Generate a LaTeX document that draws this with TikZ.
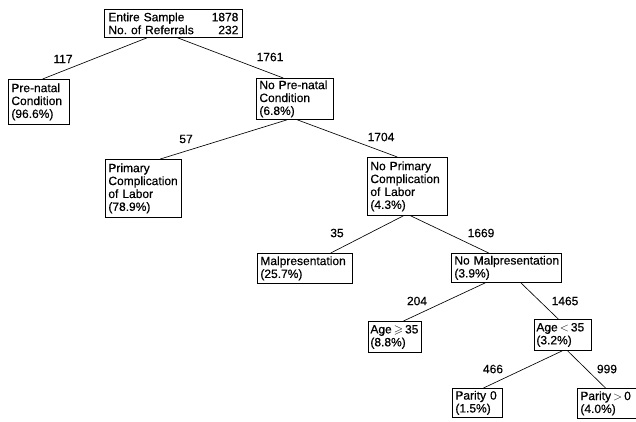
\documentclass[tikz,border=0pt]{standalone}
\usepackage{amssymb}
\usepackage{fontspec}
\setmainfont{Liberation Sans}[FakeBold=0.5]
\usetikzlibrary{calc}
\begin{document}
\frenchspacing
\begin{tikzpicture}[x=1pt,y=-1pt,
  box/.style={draw, line width=0.8pt, anchor=north west, align=left,
    inner xsep=3pt, inner ysep=0pt, font=\fontsize{12}{12.9}\selectfont},
  cnt/.style={font=\fontsize{12}{12.9}\selectfont, inner sep=0pt},
  edge/.style={line width=0.65pt}]
\useasboundingbox (0,0) rectangle (636,421);
\clip (0,0) rectangle (636,421);
% boxes
\node[box, inner xsep=4pt, text width=130pt, minimum height=28pt] (root) at (104,9)
  {Entire Sample\hfill 1878\\No. of Referrals\hfill 232};
\node[box, text width=55pt, minimum height=45pt] (pre) at (8,79)
  {Pre-natal\\Condition\\(96.6\%)};
\node[box, text width=71pt, minimum height=41pt] (nopre) at (256,78)
  {\mbox{No Pre-natal}\\Condition\\(6.8\%)};
\node[box, text width=70pt, minimum height=58pt] (prim) at (105,159)
  {Primary\\Complication\\\mbox{of Labor}\\(78.9\%)};
\node[box, text width=74pt, minimum height=58pt] (noprim) at (367,157)
  {\mbox{No Primary}\\Complication\\\mbox{of Labor}\\(4.3\%)};
\node[box, text width=89pt, minimum height=30pt] (mal) at (257,253)
  {Malpresentation\\(25.7\%)};
\node[box, text width=104pt, minimum height=29pt] (nomal) at (451,253)
  {\mbox{No Malpresentation}\\(3.9\%)};
\node[box, inner xsep=2pt, text width=49pt, minimum height=31pt] (age1) at (368,321)
  {\mbox{Age\,$\geqslant$\,35}\\(8.8\%)};
\node[box, inner xsep=2pt, text width=53pt, minimum height=31pt] (age2) at (534,319)
  {\mbox{Age\,$<$\,35}\\(3.2\%)};
\node[box, text width=44pt, minimum height=29pt] (par0) at (452,388)
  {\mbox{Parity 0}\\(1.5\%)};
\node[box, text width=58pt, minimum height=30pt] (par1) at (577,388)
  {\mbox{Parity\,$>$\,0}\\(4.0\%)};
% connectors
\draw[edge] ($(root.south west)!0.31!(root.south east)$) -- ($(pre.north west)!0.56!(pre.north east)$);
\draw[edge] ($(root.south west)!0.53!(root.south east)$) -- ($(nopre.north west)!0.35!(nopre.north east)$);
\draw[edge] ($(nopre.south west)!0.40!(nopre.south east)$) -- ($(prim.north west)!0.72!(prim.north east)$);
\draw[edge] ($(nopre.south west)!0.53!(nopre.south east)$) -- ($(noprim.north west)!0.375!(noprim.north east)$);
\draw[edge] ($(noprim.south west)!0.45!(noprim.south east)$) -- ($(mal.north west)!0.77!(mal.north east)$);
\draw[edge] ($(noprim.south west)!0.54!(noprim.south east)$) -- ($(nomal.north west)!0.34!(nomal.north east)$);
\draw[edge] ($(nomal.south west)!0.31!(nomal.south east)$) -- ($(age1.north west)!0.66!(age1.north east)$);
\draw[edge] ($(nomal.south west)!0.63!(nomal.south east)$) -- ($(age2.north west)!0.42!(age2.north east)$);
\draw[edge] ($(age2.south west)!0.49!(age2.south east)$) -- ($(par0.north west)!0.62!(par0.north east)$);
\draw[edge] ($(age2.south west)!0.58!(age2.south east)$) -- ($(par1.north west)!0.44!(par1.north east)$);
% counts
\node[cnt] (c117) at (63,59) {117};
\node[cnt] (c1761) at (270,57) {1761};
\node[cnt] (c57) at (186,139) {57};
\node[cnt] (c1704) at (381,137) {1704};
\node[cnt] (c35) at (337,233) {35};
\node[cnt] (c1669) at (481,233) {1669};
\node[cnt] (c204) at (417,301) {204};
\node[cnt] (c1465) at (565,301) {1465};
\node[cnt] (c466) at (493,369) {466};
\node[cnt] (c999) at (607,369) {999};
\end{tikzpicture}
\end{document}
